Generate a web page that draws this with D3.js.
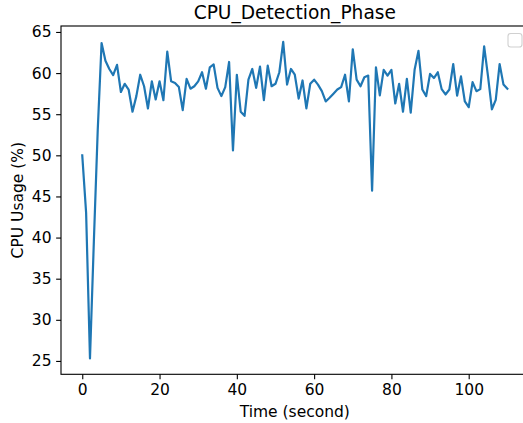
<!DOCTYPE html>
<html>
<head>
<meta charset="utf-8">
<script src="https://cdn.jsdelivr.net/npm/d3@7/dist/d3.min.js"></script>
<style>
  html, body { margin: 0; padding: 0; background: #fff; overflow: hidden; }
  svg { display: block; font-family: "DejaVu Sans", sans-serif; }
</style>
</head>
<body>
<svg id="chart" width="523" height="423"></svg>
<script>
// CPU usage sampled once per second during the detection phase
const timeSeconds = d3.range(0, 111);
const cpuUsage = [
  50.0, 43.0, 25.3, 39.5, 53.0, 63.65, 61.5, 60.5, 59.75, 61.0,
  57.7, 58.7, 58.0, 55.3, 57.2, 59.8, 58.4, 55.7, 59.0, 56.8,
  59.0, 56.7, 62.6, 59.0, 58.8, 58.3, 55.5, 59.3, 58.1, 58.4,
  59.0, 60.1, 58.1, 60.7, 61.05, 58.2, 57.2, 58.3, 61.35, 50.6,
  59.8, 55.3, 54.8, 59.2, 60.5, 58.2, 60.8, 56.7, 60.9, 58.4,
  58.7, 60.1, 63.8, 58.6, 60.5, 59.8, 56.9, 59.1, 55.7, 58.7,
  59.2, 58.6, 57.8, 56.55, 57.0, 57.5, 58.0, 58.3, 59.8, 56.55,
  62.9, 59.2, 58.4, 59.5, 59.7, 45.7, 60.7, 57.3, 60.4, 59.7,
  60.4, 56.3, 58.7, 55.3, 59.3, 55.2, 60.4, 62.7, 58.0, 57.2,
  59.9, 59.4, 60.1, 58.05, 57.4, 58.0, 61.1, 57.25, 59.6, 56.55,
  55.85, 58.9, 57.8, 58.05, 63.25, 59.6, 55.6, 56.75, 61.1, 58.6,
  58.1
];
const xTicks = [0, 20, 40, 60, 80, 100];
const yTicks = [25, 30, 35, 40, 45, 50, 55, 60, 65];

const titleText = "CPU_Detection_Phase";
const xLabel = "Time (second)";
const yLabel = "CPU Usage (%)";

// Axes box in pixels (right edge runs just past the canvas)
const box = { left: 61, top: 26, right: 528.6, bottom: 374.3 };

// Data limits padded by 5% on each side
function padded(values) {
  const [lo, hi] = d3.extent(values);
  const m = (hi - lo) * 0.05;
  return [lo - m, hi + m];
}

const x = d3.scaleLinear().domain(padded(timeSeconds)).range([box.left, box.right]);
const y = d3.scaleLinear().domain(padded(cpuUsage)).range([box.bottom, box.top]);

const svg = d3.select("#chart");
const fontSize = 15.5;

// Data line
const points = timeSeconds.map((t, i) => [t, cpuUsage[i]]);
svg.append("path")
  .datum(points)
  .attr("fill", "none")
  .attr("stroke", "#1f77b4")
  .attr("stroke-width", 2.2)
  .attr("stroke-linejoin", "round")
  .attr("stroke-linecap", "square")
  .attr("d", d3.line().x(d => x(d[0])).y(d => y(d[1])));

// Axes
const xAxis = d3.axisBottom(x).tickValues(xTicks).tickSize(4.86).tickPadding(4.5).tickFormat(d3.format("d"));
const yAxis = d3.axisLeft(y).tickValues(yTicks).tickSize(4.86).tickPadding(4.6).tickFormat(d3.format("d"));

const gx = svg.append("g").attr("transform", `translate(0,${box.bottom})`).call(xAxis);
const gy = svg.append("g").attr("transform", `translate(${box.left},0)`).call(yAxis);

[gx, gy].forEach(g => {
  g.select(".domain").remove();
  g.selectAll(".tick line").attr("stroke", "#000").attr("stroke-width", 1.11);
  g.selectAll(".tick text")
    .attr("fill", "#000")
    .style("font-family", "'DejaVu Sans', sans-serif")
    .style("font-size", fontSize + "px");
});

// Frame around the plotting area
svg.append("rect")
  .attr("x", box.left)
  .attr("y", box.top)
  .attr("width", box.right - box.left)
  .attr("height", box.bottom - box.top)
  .attr("fill", "none")
  .attr("stroke", "#000")
  .attr("stroke-width", 1.11);

// Title
svg.append("text")
  .attr("x", (box.left + box.right) / 2)
  .attr("y", 19.3)
  .attr("text-anchor", "middle")
  .style("font-size", "18.6px")
  .attr("fill", "#000")
  .text(titleText);

// Axis labels
svg.append("text")
  .attr("x", (box.left + box.right) / 2)
  .attr("y", 417.3)
  .attr("text-anchor", "middle")
  .style("font-size", fontSize + "px")
  .attr("fill", "#000")
  .text(xLabel);

svg.append("text")
  .attr("transform", `translate(23.3,${(box.top + box.bottom) / 2}) rotate(-90)`)
  .attr("text-anchor", "middle")
  .style("font-size", fontSize + "px")
  .attr("fill", "#000")
  .text(yLabel);

// Empty legend frame in the upper right corner
svg.append("rect")
  .attr("x", 508)
  .attr("y", 33.5)
  .attr("width", 14)
  .attr("height", 13.5)
  .attr("rx", 2.8)
  .attr("fill", "#fff")
  .attr("fill-opacity", 0.8)
  .attr("stroke", "#d0d0d0")
  .attr("stroke-width", 1.11);
</script>
</body>
</html>
